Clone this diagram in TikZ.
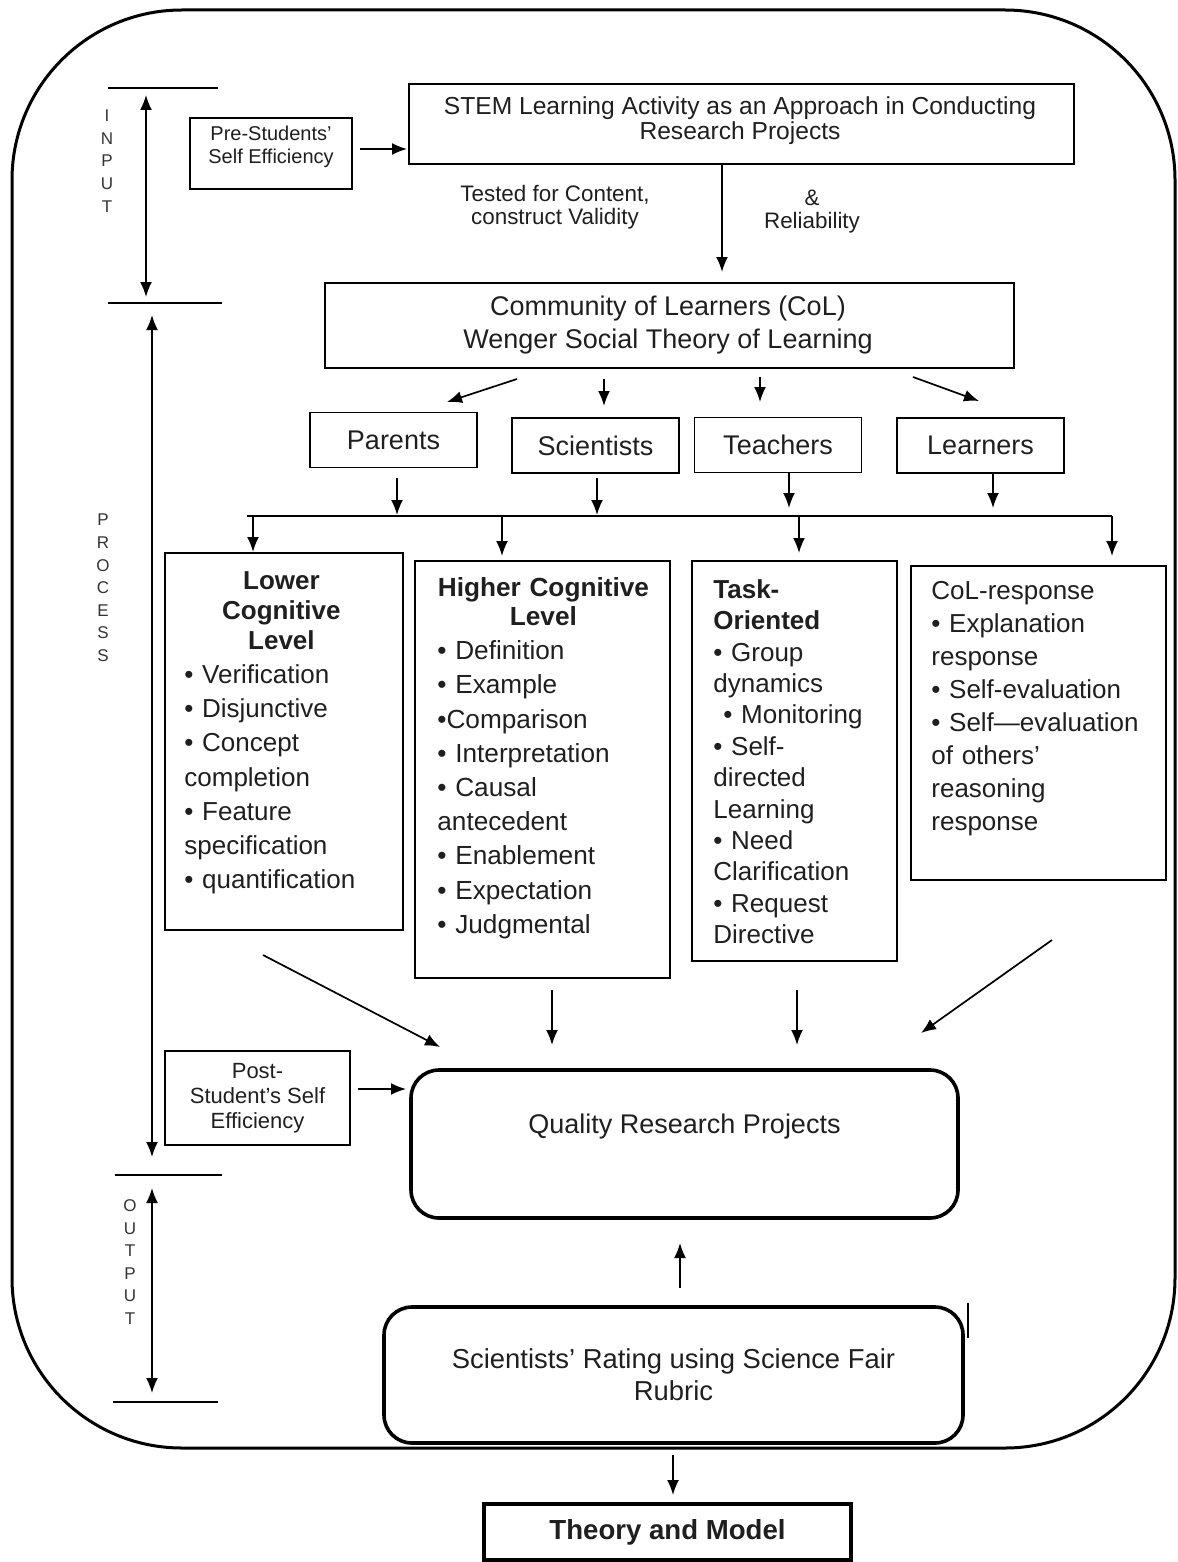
\documentclass[tikz,border=0pt]{standalone}
\usepackage{fontspec}
\setmainfont{Liberation Sans}
\usetikzlibrary{arrows.meta}
\begin{document}
\begin{tikzpicture}[x=0.5pt,y=-0.5pt,
  box/.style={draw, line width=0.9pt, inner sep=0pt},
  tbox/.style={draw, line width=1.8pt, inner sep=0pt, rounded corners=14pt},
  txt/.style={inner sep=0pt, text=black!88},
  arr/.style={-{Latex[length=7.5pt,width=6pt]}, line width=0.85pt},
  darr/.style={{Latex[length=7.5pt,width=6pt]}-{Latex[length=7.5pt,width=6pt]}, line width=0.85pt},
  rule/.style={line width=0.9pt},
  vlab/.style={inner sep=0pt, align=center, text=black!80, font=\fontsize{8.5}{11.3}\selectfont},
  role/.style={box, minimum width=83.5pt, minimum height=27.5pt, font=\fontsize{13.5}{16}\selectfont, text=black!88},
  listtxt/.style={txt, anchor=north west, align=left}
]
\useasboundingbox (0,0) rectangle (1177,1562);

% outer frame
\draw[line width=1.5pt, rounded corners=85pt] (12,10) rectangle (1175,1448);

% side labels and arrows
\node[vlab] (lin) at (107,161) {I\\N\\P\\U\\T};
\node[vlab] (lpr) at (103,588) {P\\R\\O\\C\\E\\S\\S};
\node[vlab] (lou) at (130,1262) {O\\U\\T\\P\\U\\T};
\coordinate (h1a) at (108,88);  \coordinate (h1b) at (218,88);
\coordinate (h2a) at (108,303); \coordinate (h2b) at (222,303);
\coordinate (h3a) at (115,1175); \coordinate (h3b) at (222,1175);
\coordinate (h4a) at (113,1402); \coordinate (h4b) at (218,1402);
\draw[rule] (h1a) -- (h1b);
\draw[rule] (h2a) -- (h2b);
\draw[rule] (h3a) -- (h3b);
\draw[rule] (h4a) -- (h4b);
\coordinate (ia) at (146,95);  \coordinate (ib) at (146,297);
\coordinate (pa) at (152,315); \coordinate (pb) at (152,1157);
\coordinate (oa) at (152,1188); \coordinate (ob) at (152,1393);
\draw[darr] (ia) -- (ib);
\draw[darr] (pa) -- (pb);
\draw[darr] (oa) -- (ob);

% input
\node[box, minimum width=81pt, minimum height=35.5pt] (pre) at (271,153.5) {};
\node[txt, align=center, font=\fontsize{10}{11.5}\selectfont] (pret) at (271,147) {Pre-Students’\\Self Efficiency};
\node[box, minimum width=332.5pt, minimum height=40pt] (stem) at (741.5,124) {};
\node[txt, align=center, font=\fontsize{12.3}{12.5}\selectfont] (stemt) at (740,121) {STEM Learning Activity as an Approach in Conducting\\Research Projects};
\coordinate (pa1) at (360,149); \coordinate (pa2) at (407,149);
\draw[arr] (pa1) -- (pa2);
\node[txt, align=center, font=\fontsize{11.2}{11.5}\selectfont] (tested) at (555,207) {Tested for Content,\\construct Validity};
\node[txt, align=center, font=\fontsize{11.2}{11.5}\selectfont] (amp) at (812,212) {\&\\Reliability};

% CoL
\node[box, minimum width=344.5pt, minimum height=42.5pt] (col) at (669.5,325.5) {};
\node[txt, align=center, font=\fontsize{13.5}{16.5}\selectfont] (colt) at (668,325) {Community of Learners (CoL)\\Wenger Social Theory of Learning};
\coordinate (sa) at (722,164); \coordinate (sb) at (722,272);
\draw[arr] (sa) -- (sb);

% roles
\node[role] (par) at (393.5,440) {Parents};
\node[role] (sci) at (595.5,445.5) {Scientists};
\node[role] (tea) at (778,445) {Teachers};
\node[role] (lea) at (980.5,445.5) {Learners};
\coordinate (c1a) at (517,379); \coordinate (c1b) at (447,402);
\coordinate (c2a) at (604,379); \coordinate (c2b) at (604,406);
\coordinate (c3a) at (760,377); \coordinate (c3b) at (760,402);
\coordinate (c4a) at (913,377); \coordinate (c4b) at (979,401);
\draw[arr] (c1a) -- (c1b);
\draw[arr] (c2a) -- (c2b);
\draw[arr] (c3a) -- (c3b);
\draw[arr] (c4a) -- (c4b);

% bus
\coordinate (busL) at (247,516); \coordinate (busR) at (1112,516);
\draw[rule] (busL) -- (busR);
\coordinate (r1a) at (397,478); \coordinate (r1b) at (397,515);
\coordinate (r2a) at (597,478); \coordinate (r2b) at (597,515);
\coordinate (r3a) at (789,472); \coordinate (r3b) at (789,508);
\coordinate (r4a) at (993,472); \coordinate (r4b) at (993,508);
\draw[arr] (r1a) -- (r1b);
\draw[arr] (r2a) -- (r2b);
\draw[arr] (r3a) -- (r3b);
\draw[arr] (r4a) -- (r4b);

% category boxes
\node[box, minimum width=119pt, minimum height=188.5pt] (low) at (284,741.5) {};
\node[box, minimum width=127.5pt, minimum height=208.5pt] (hig) at (542.5,769.5) {};
\node[box, minimum width=102.5pt, minimum height=200pt] (tas) at (794.5,761) {};
\node[box, minimum width=127.5pt, minimum height=157pt] (cre) at (1038.5,723) {};
\coordinate (d1a) at (253,516); \coordinate (d1b) at (253,552);
\coordinate (d2a) at (502,516); \coordinate (d2b) at (502,556);
\coordinate (d3a) at (799,516); \coordinate (d3b) at (799,553);
\coordinate (d4a) at (1112,516); \coordinate (d4b) at (1112,556);
\draw[arr] (d1a) -- (d1b);
\draw[arr] (d2a) -- (d2b);
\draw[arr] (d3a) -- (d3b);
\draw[arr] (d4a) -- (d4b);

\node[listtxt, text width=97pt, font=\fontsize{13}{17.1}\selectfont] (lowt) at (184,571)
 {{\centering\bfseries\fontsize{13}{15}\selectfont Lower\\Cognitive\\Level\par}
  • Verification\\ • Disjunctive\\ • Concept\\ completion\\ • Feature\\ specification\\ • quantification};
\node[listtxt, text width=106pt, font=\fontsize{13.1}{17.1}\selectfont] (higt) at (437,577)
 {{\centering\bfseries\fontsize{13.1}{14.6}\selectfont Higher Cognitive\\Level\par}
  • Definition\\ • Example\\ •Comparison\\ • Interpretation\\ • Causal\\ antecedent\\ • Enablement\\ • Expectation\\ • Judgmental};
\node[listtxt, text width=88pt, font=\fontsize{13}{15.7}\selectfont] (tast) at (713,579)
 {\textbf{Task-}\\ \textbf{Oriented}\\ • Group\\ dynamics\\ \hspace*{5pt}• Monitoring\\ • Self-\\ directed\\ Learning\\ • Need\\ Clarification\\ • Request\\ Directive};
\node[listtxt, text width=116pt, font=\fontsize{13}{16.5}\selectfont] (cret) at (931,581)
 {CoL-response\\ • Explanation\\ response\\ • Self-evaluation\\ • Self—evaluation\\ of others’\\ reasoning\\ response};

% into QRP
\node[tbox, minimum width=273.5pt, minimum height=74pt] (qrp) at (684.5,1144) {};
\node[txt, font=\fontsize{13.5}{16}\selectfont] (qrpt) at (684.5,1127) {Quality Research Projects};
\coordinate (q1a) at (263,955); \coordinate (q1b) at (440,1047);
\coordinate (q2a) at (552,990); \coordinate (q2b) at (552,1045);
\coordinate (q3a) at (797,990); \coordinate (q3b) at (797,1045);
\coordinate (q4a) at (1052,940); \coordinate (q4b) at (921,1033);
\draw[arr] (q1a) -- (q1b);
\draw[arr] (q2a) -- (q2b);
\draw[arr] (q3a) -- (q3b);
\draw[arr] (q4a) -- (q4b);

\node[box, minimum width=92.5pt, minimum height=47pt] (post) at (257.5,1098) {};
\node[txt, align=center, font=\fontsize{11}{12.5}\selectfont] (postt) at (257.5,1098) {Post-\\Student’s Self\\Efficiency};
\coordinate (pp1) at (358,1089); \coordinate (pp2) at (406,1089);
\draw[arr] (pp1) -- (pp2);

% output
\node[tbox, minimum width=289.5pt, minimum height=68pt, align=center, font=\fontsize{13.7}{16}\selectfont, text=black!88] (rat) at (673.5,1375) {Scientists’ Rating using Science Fair\\Rubric};
\coordinate (ua) at (680,1288); \coordinate (ub) at (680,1243);
\draw[arr] (ua) -- (ub);
\coordinate (cur1) at (968,1303); \coordinate (cur2) at (968,1338);
\draw[line width=0.7pt] (cur1) -- (cur2);

\node[draw, line width=1.8pt, inner sep=0pt, minimum width=183.5pt, minimum height=28pt, font=\bfseries\fontsize{13.8}{16}\selectfont, text=black!88] (thm) at (667.5,1532) {Theory and Model};
\coordinate (ta) at (673,1455); \coordinate (tb) at (673,1495);
\draw[arr] (ta) -- (tb);
\end{tikzpicture}
\end{document}
